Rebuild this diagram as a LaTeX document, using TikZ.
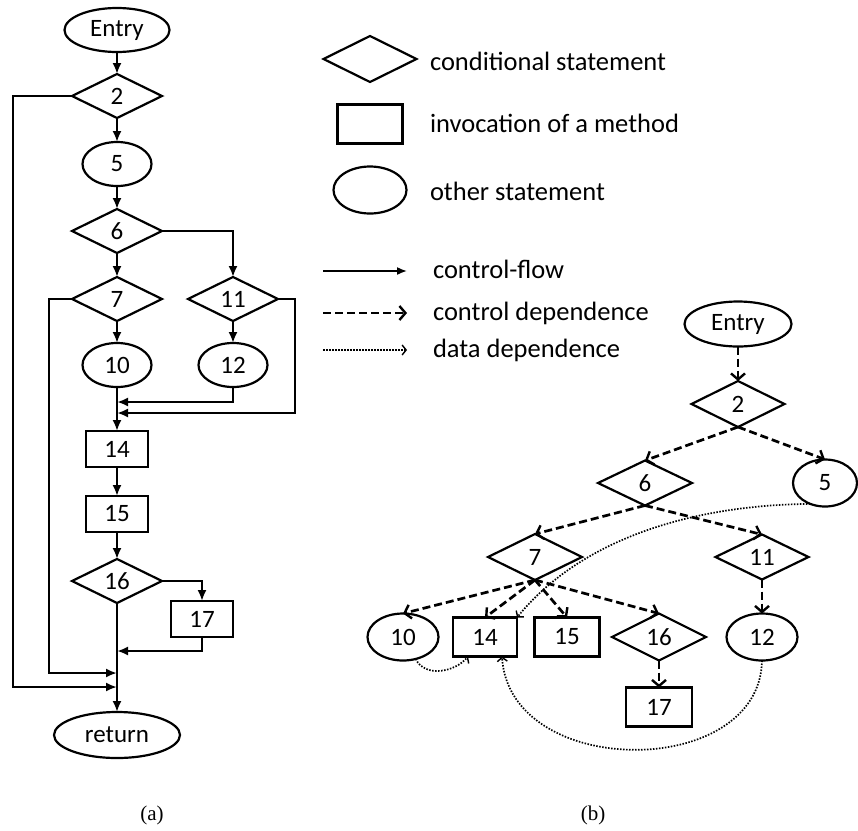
\documentclass[tikz,border=0pt]{standalone}
\usepackage{fontspec}
\setmainfont{Carlito}
\newfontfamily\capfont{Liberation Serif}
\usetikzlibrary{shapes.geometric,arrows.meta}
\begin{document}
\begin{tikzpicture}[x=1pt,y=-1pt,
  every node/.style={inner sep=0pt,outer sep=0pt,font=\fontsize{25}{29}\selectfont},
  shp/.style={draw,line width=2.2pt},
  cond/.style={shp,diamond,minimum width=90pt,minimum height=44pt},
  oval/.style={shp,ellipse,minimum width=69pt,minimum height=44pt},
  rbox/.style={shp,rectangle,minimum width=62pt,minimum height=36pt},
  cf/.style={line width=2.1pt,-{Latex[length=11pt,width=9pt]}},
  cdep/.style={line width=2.7pt,dash pattern=on 8pt off 4pt,-{Straight Barb[length=6pt,width=14pt,line width=2.4pt]}},
  ddep/.style={line width=1.7pt,dash pattern=on 1.5pt off 1.5pt,-{Straight Barb[length=4pt,width=10pt,line width=1.4pt]}},
  lg/.style={font=\fontsize{26.5}{30}\selectfont},
  captxt/.style={font=\capfont\fontsize{21}{25}\selectfont}
]
\useasboundingbox (0,0) rectangle (858,830);

% ---------- (a) control-flow graph ----------
\node[oval,minimum width=105pt] (lE) at (117,30) {Entry};
\node[cond] (l2) at (117,96) {2};
\node[oval] (l5) at (117,164) {5};
\node[cond] (l6) at (117,231) {6};
\node[cond] (l7) at (117,299) {7};
\node[cond] (l11) at (233,299) {11};
\node[oval] (l10) at (117,365) {10};
\node[oval] (l12) at (233,365) {12};
\node[rbox] (l14) at (117,449) {14};
\node[rbox] (l15) at (117,514) {15};
\node[cond] (l16) at (117,581) {16};
\node[rbox] (l17) at (202,619) {17};
\node[oval,minimum width=126pt,minimum height=46pt] (lR) at (117,735) {return};

\coordinate (j12) at (117,402);
\coordinate (j11) at (117,413);
\coordinate (j17) at (117,651);
\coordinate (j7) at (117,673);
\coordinate (j2) at (117,687);

\draw[cf] (lE.south) -- (l2.north);
\draw[cf] (l2.south) -- (l5.north);
\draw[cf] (l5.south) -- (l6.north);
\draw[cf] (l6.south) -- (l7.north);
\draw[cf] (l6.east) -| (l11.north);
\draw[cf] (l7.south) -- (l10.north);
\draw[cf] (l11.south) -- (l12.north);
\draw[cf] (l10.south) -- (l14.north);
\draw[cf] (l12.south) |- (j12);
\draw[cf] (l11.east) -- ++(17,0) |- (j11);
\draw[cf] (l14.south) -- (l15.north);
\draw[cf] (l15.south) -- (l16.north);
\draw[cf] (l16.east) -| (l17.north);
\draw[cf] (l17.south) |- (j17);
\draw[cf] (l7.west) -- ++(-23,0) |- (j7);
\draw[cf] (l2.west) -- ++(-59,0) |- (j2);
\draw[cf] (l16.south) -- (lR.north);

% ---------- legend ----------
\node[cond,minimum width=93pt,minimum height=46pt] (gD) at (370,59) {};
\node[rbox,minimum width=65pt,minimum height=39pt] (gB) at (370,124) {};
\node[oval,minimum width=73pt,minimum height=47pt] (gO) at (370,190) {};
\node[lg,anchor=base west] (gtD) at (430,70) {conditional statement};
\node[lg,anchor=base west] (gtB) at (430,132) {invocation of a method};
\node[lg,anchor=base west] (gtO) at (430,200) {other statement};

\coordinate (gs1) at (323,271);
\coordinate (gs2) at (407,271);
\coordinate (gc1) at (323,313);
\coordinate (gc2) at (407,313);
\coordinate (gd1) at (323,350);
\coordinate (gd2) at (407,350);
\draw[line width=1.6pt,-{Latex[length=10pt,width=8pt]}] (gs1) -- (gs2);
\draw[cdep] (gc1) -- (gc2);
\draw[ddep] (gd1) -- (gd2);
\node[lg,anchor=base west] (gt1) at (433,278) {control-flow};
\node[lg,anchor=base west] (gt2) at (433,320) {control dependence};
\node[lg,anchor=base west] (gt3) at (433,357) {data dependence};

% ---------- (b) dependence graph ----------
\node[oval,minimum width=107pt,minimum height=45pt] (rE) at (738,324) {Entry};
\node[cond,minimum width=93pt,minimum height=46pt] (r2) at (738,404) {2};
\node[cond,minimum width=94pt,minimum height=45pt] (r6) at (645,483) {6};
\node[oval,minimum width=64pt,minimum height=47pt] (r5) at (825,483) {5};
\node[cond,minimum width=94pt,minimum height=46pt] (r7) at (535,557) {7};
\node[cond,minimum width=93pt,minimum height=45pt] (r11) at (762,557) {11};
\node[oval,minimum width=71pt,minimum height=47pt] (r10) at (403,637) {10};
\node[rbox,minimum width=64pt,minimum height=39pt] (r14) at (485,637) {14};
\node[rbox,minimum width=65pt,minimum height=39pt] (r15) at (567,637) {15};
\node[cond,minimum width=94pt,minimum height=47pt] (r16) at (659,637) {16};
\node[oval,minimum width=71pt,minimum height=47pt] (r12) at (762,637) {12};
\node[rbox,minimum width=66pt,minimum height=39pt] (r17) at (659,707) {17};

\draw[cdep] (rE.south) -- (r2.north);
\draw[cdep] (r2.south) -- (r6.north);
\draw[cdep] (r2.south) -- (r5.north);
\draw[cdep] (r6.south) -- (r7.north);
\draw[cdep] (r6.south) -- (r11.north);
\draw[cdep] (r7.south) -- (r10.north);
\draw[cdep] (r7.south) -- (r14.north);
\draw[cdep] (r7.south) -- (r15.north);
\draw[cdep] (r7.south) -- (r16.north);
\draw[cdep] (r11.south) -- (r12.north);
\draw[cdep] (r16.south) -- (r17.north);

\draw[ddep] (r5.235) .. controls (690,505) and (580,540) .. (r14.north east);
\draw[ddep] (r10.300) .. controls (425,678) and (455,672) .. ([xshift=-17pt]r14.south);
\draw[ddep] (r12.south) .. controls (760,780) and (510,780) .. ([xshift=17pt]r14.south);

% ---------- captions ----------
\node[captxt] (capA) at (152,815) {(a)};
\node[captxt] (capB) at (593,815) {(b)};
\end{tikzpicture}
\end{document}
